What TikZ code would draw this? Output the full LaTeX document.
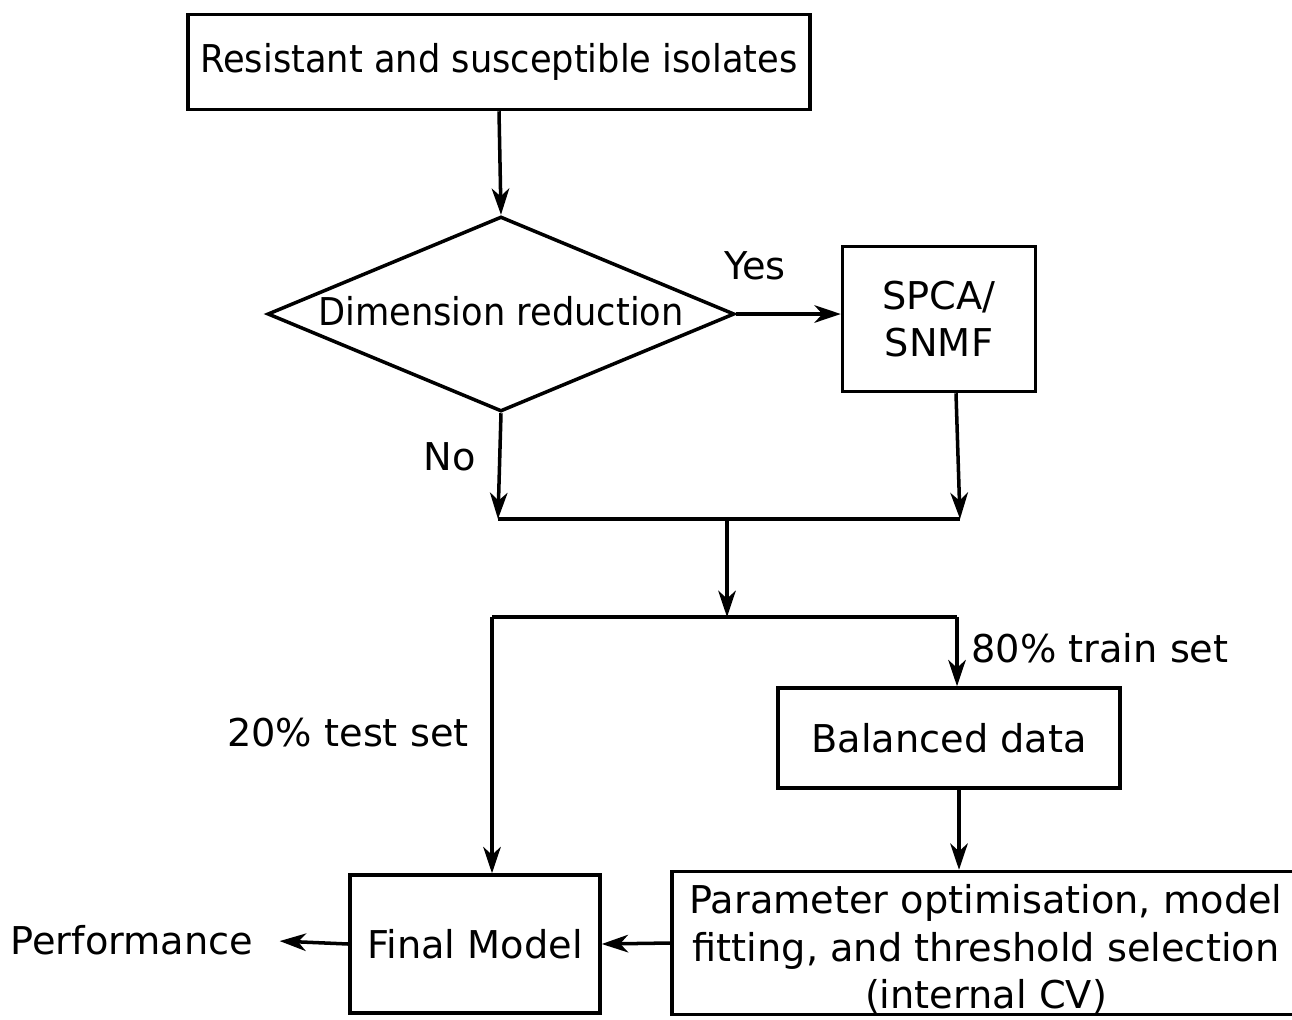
\documentclass[tikz,border=0pt]{standalone}
\usepackage{fontspec}
\setmainfont{DejaVu Sans}
\usetikzlibrary{shapes.geometric,arrows.meta}

\tikzset{
  box/.style={draw, rectangle, inner sep=0pt, align=center},
  decision/.style={draw, diamond, aspect=2.4, inner sep=0pt, align=center},
  label/.style={inner sep=0pt}
}
\newcommand{\narrow}[1]{\scalebox{0.92}[1]{#1}}

\begin{document}
\begin{tikzpicture}[x=0.02cm, y=-0.02cm, line width=2pt,
    >={Stealth[length=15pt,width=10pt,inset=4.5pt]},
    every node/.append style={font=\fontsize{21.8}{27}\selectfont}]
  \useasboundingbox (0,0) rectangle (1292,1019);

  % boxes
  \node[box, minimum width=12.44cm, minimum height=1.9cm] (isolates) at (499,62) {\narrow{Resistant and susceptible isolates}};
  \node[decision, minimum width=9.34cm, minimum height=3.9cm] (reduce) at (501,314) {\raisebox{3pt}{\narrow{Dimension reduction}}};
  \node[box, minimum width=3.86cm, minimum height=2.9cm] (spca) at (939,319) {SPCA/\\SNMF};
  \node[box, minimum width=6.84cm, minimum height=2cm] (balanced) at (949,738) {Balanced data};
  \node[box, minimum width=12.56cm, minimum height=2.86cm] (tuning) at (986,943) {\rule{0pt}{23.5pt}Parameter optimisation, model\\fitting, and threshold selection\\(internal CV)};
  \node[box, minimum width=5cm, minimum height=2.76cm] (final) at (475,944) {Final Model};
  \node[label] (perf) at (132,940) {Performance};

  % labels
  \node[label] (yes) at (755,266) {Yes};
  \node[label] (no) at (450,457) {No};
  \node[label] (train) at (1100,648) {80\% train set};
  \node[label] (test) at (348,733) {20\% test set};

  % joins
  \coordinate (j1l) at (498,519);
  \coordinate (j1m) at (727,519);
  \coordinate (j1r) at (960,519);
  \coordinate (j2l) at (492,617);
  \coordinate (j2m) at (727,617);
  \coordinate (j2r) at (957,617);

  % connectors
  \draw[->] (isolates.south) -- (reduce.north);
  \draw[->] (reduce.east) -- (spca.west |- reduce.east);
  \draw[->] (reduce.south) -- (j1l);
  \draw[->] ([xshift=0.34cm]spca.south) -- (j1r);
  \draw (j1l) -- (j1r);
  \draw[->] (j1m) -- (j2m);
  \draw (j2l) -- (j2r);
  \draw[->] (j2l) -- (j2l |- final.north);
  \draw[->] (j2r) -- (j2r |- balanced.north);
  \draw[->] ([xshift=0.2cm]balanced.south) -- ([xshift=0.2cm]balanced.south |- tuning.north);
  \draw[->] (tuning.west) -- (final.east);
  \draw[->, shorten >=14pt] (final.west) -- (perf.east);
\end{tikzpicture}
\end{document}
